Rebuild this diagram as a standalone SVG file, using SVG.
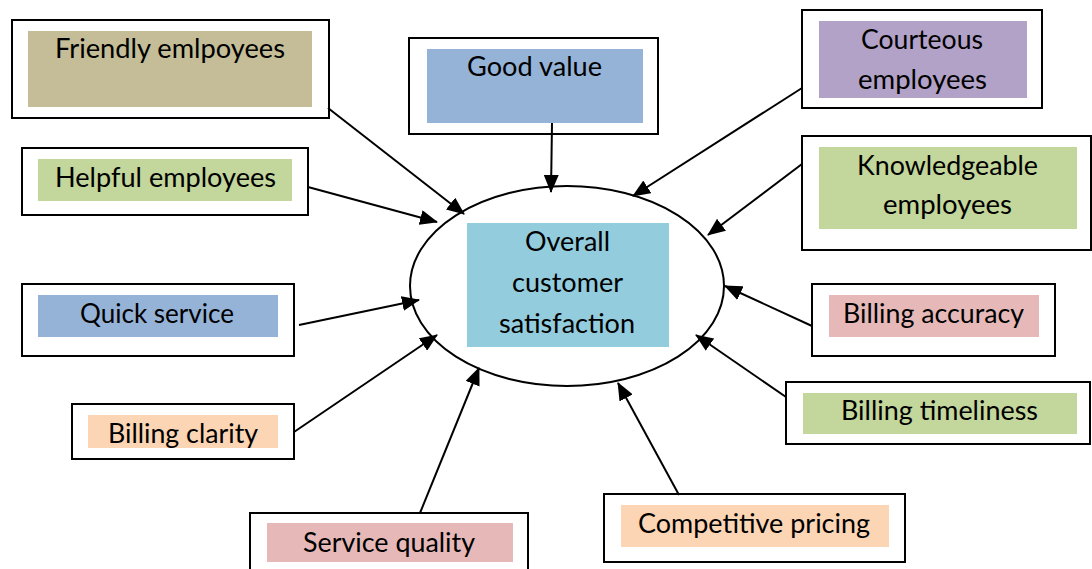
<svg xmlns="http://www.w3.org/2000/svg" width="1092" height="569" viewBox="0 0 1092 569">
<style>
.frame{fill:#fff;stroke:#000;stroke-width:2}
.lbl{font-family:Lato,"Noto Sans","Liberation Sans",sans-serif;font-size:26px;fill:#000;text-anchor:middle}
.conn{stroke:#000;stroke-width:2;fill:none;marker-end:url(#ah)}
</style>
<defs>
<marker id="ah" markerUnits="userSpaceOnUse" markerWidth="18" markerHeight="15" refX="17" refY="7.5" orient="auto">
<path d="M0,0 L18,7.5 L0,15 z" fill="#000"/>
</marker>
</defs>
<rect width="1092" height="569" fill="#fff"/>

<g id="center">
<ellipse cx="567" cy="286" rx="157" ry="100" fill="#fff" stroke="#000" stroke-width="2"/>
<rect x="467" y="223" width="202" height="124" fill="#93CDDD"/>
<text class="lbl" x="567.5" y="251" textLength="85" lengthAdjust="spacingAndGlyphs">Overall</text>
<text class="lbl" x="567.5" y="292" textLength="111" lengthAdjust="spacingAndGlyphs">customer</text>
<text class="lbl" x="567" y="333" textLength="136" lengthAdjust="spacingAndGlyphs">satisfaction</text>
</g>

<g id="friendly">
<rect class="frame" x="12" y="20" width="317" height="98"/>
<rect x="28" y="31" width="284" height="76" fill="#C4BD97"/>
<text class="lbl" x="170" y="58" textLength="230" lengthAdjust="spacingAndGlyphs">Friendly emlpoyees</text>
</g>

<g id="goodvalue">
<rect class="frame" x="409" y="38" width="249" height="96"/>
<rect x="427" y="49" width="216" height="74" fill="#95B3D7"/>
<text class="lbl" x="534.5" y="76" textLength="135" lengthAdjust="spacingAndGlyphs">Good value</text>
</g>

<g id="courteous">
<rect class="frame" x="802" y="10" width="240" height="98"/>
<rect x="819" y="21" width="208" height="77" fill="#B2A2C7"/>
<text class="lbl" x="922" y="49" textLength="122" lengthAdjust="spacingAndGlyphs">Courteous</text>
<text class="lbl" x="922.5" y="89" textLength="129" lengthAdjust="spacingAndGlyphs">employees</text>
</g>

<g id="helpful">
<rect class="frame" x="22" y="148" width="286" height="67"/>
<rect x="38" y="159" width="254" height="42" fill="#C3D69B"/>
<text class="lbl" x="165.5" y="187" textLength="221" lengthAdjust="spacingAndGlyphs">Helpful employees</text>
</g>

<g id="knowledgeable">
<rect class="frame" x="802" y="136" width="289" height="114"/>
<rect x="819" y="147" width="258" height="82" fill="#C3D69B"/>
<text class="lbl" x="947.5" y="175" textLength="181" lengthAdjust="spacingAndGlyphs">Knowledgeable</text>
<text class="lbl" x="947.5" y="214" textLength="129" lengthAdjust="spacingAndGlyphs">employees</text>
</g>

<g id="quick">
<rect class="frame" x="22" y="284" width="272" height="72"/>
<rect x="38" y="295" width="240" height="42" fill="#95B3D7"/>
<text class="lbl" x="157" y="323" textLength="154" lengthAdjust="spacingAndGlyphs">Quick service</text>
</g>

<g id="accuracy">
<rect class="frame" x="812" y="284" width="243" height="72"/>
<rect x="829" y="295" width="210" height="42" fill="#E6B9B8"/>
<text class="lbl" x="933.5" y="323" textLength="181" lengthAdjust="spacingAndGlyphs">Billing accuracy</text>
</g>

<g id="timeliness">
<rect class="frame" x="786" y="382" width="304" height="62"/>
<rect x="803" y="393" width="274" height="41" fill="#C3D69B"/>
<text class="lbl" x="939.5" y="420" textLength="197" lengthAdjust="spacingAndGlyphs">Billing timeliness</text>
</g>

<g id="clarity">
<rect class="frame" x="72" y="404" width="222" height="55"/>
<rect x="88" y="415" width="190" height="33" fill="#FCD5B5"/>
<text class="lbl" x="183" y="443" textLength="150" lengthAdjust="spacingAndGlyphs">Billing clarity</text>
</g>

<g id="quality">
<rect class="frame" x="250" y="513" width="278" height="70"/>
<rect x="267" y="523" width="246" height="39" fill="#E6B9B8"/>
<text class="lbl" x="389" y="552" textLength="172" lengthAdjust="spacingAndGlyphs">Service quality</text>
</g>

<g id="pricing">
<rect class="frame" x="604" y="494" width="301" height="68"/>
<rect x="621" y="505" width="268" height="42" fill="#FCD5B5"/>
<text class="lbl" x="754" y="533" textLength="232" lengthAdjust="spacingAndGlyphs">Competitive pricing</text>
</g>

<g id="connectors">
<line class="conn" x1="328" y1="108" x2="464" y2="214"/>
<line class="conn" x1="308" y1="187" x2="437" y2="222"/>
<line class="conn" x1="299" y1="325" x2="419" y2="300"/>
<line class="conn" x1="294" y1="432" x2="437" y2="335"/>
<line class="conn" x1="420" y1="513" x2="479" y2="368"/>
<line class="conn" x1="679" y1="495" x2="618" y2="383"/>
<line class="conn" x1="786" y1="397" x2="696" y2="335"/>
<line class="conn" x1="812" y1="326" x2="725" y2="286"/>
<line class="conn" x1="802" y1="164" x2="708" y2="235"/>
<line class="conn" x1="802" y1="88" x2="633" y2="196"/>
<line class="conn" x1="552" y1="123" x2="551" y2="192"/>
</g>
</svg>
